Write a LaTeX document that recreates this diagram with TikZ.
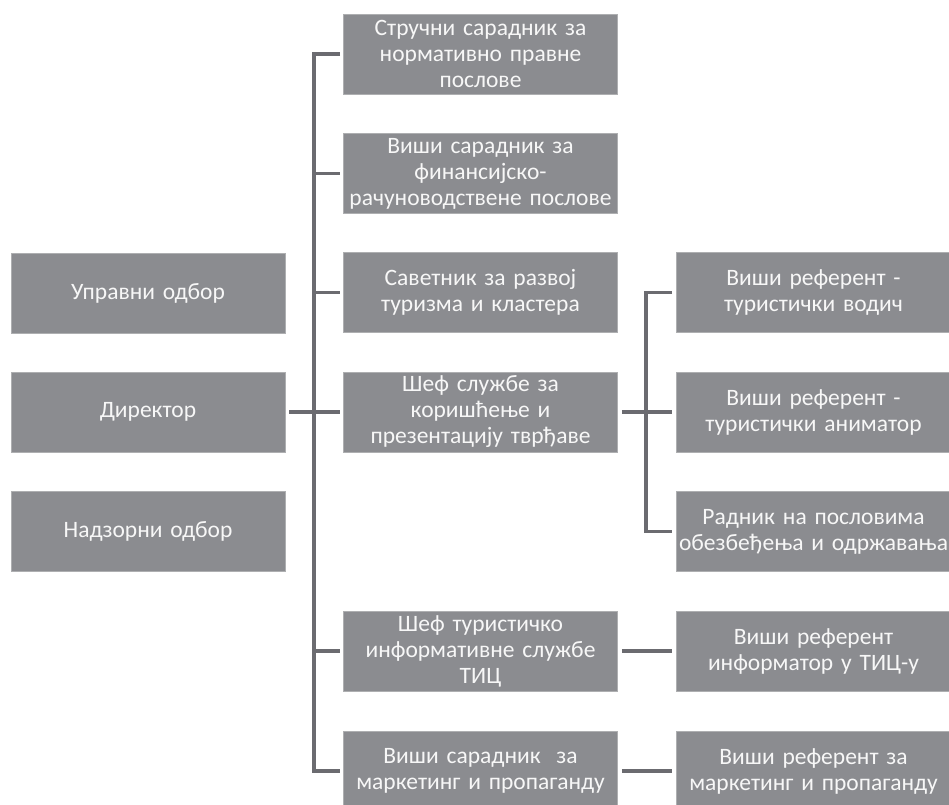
\documentclass[tikz,border=0pt]{standalone}
\usepackage{fontspec}
\setmainfont{Carlito}
\definecolor{boxgray}{HTML}{8B8C90}
\definecolor{linegray}{HTML}{6B6B70}
\definecolor{txt}{HTML}{F7F7F7}
\begin{document}
\begin{tikzpicture}[x=1bp,y=-1bp,
  box/.style={fill=boxgray, draw=boxgray!70!white, line width=0.6bp, text=txt, minimum width=274bp, minimum height=80bp,
    inner sep=0pt, align=center, text width=272bp, font=\fontsize{23.5bp}{26bp}\selectfont},
  conn/.style={draw=linegray, line width=3.6bp, line join=miter}]
\useasboundingbox (0,0) rectangle (949,805);
% left column
\node[box] (upr) at (148,293) {Управни одбор};
\node[box] (dir) at (148,412) {Директор};
\node[box] (nad) at (148,531.5) {Надзорни одбор};
% middle column
\node[box] (s1) at (480.5,54) {Стручни сарадник за\\нормативно правне\\послове};
\node[box] (s2) at (480.5,173.5) {Виши сарадник за\\финансијско-\\рачуноводствене послове};
\node[box] (s3) at (480.5,292.5) {Саветник за развој\\туризма и кластера};
\node[box] (s4) at (480.5,412) {Шеф службе за\\коришћење и\\презентацију тврђаве};
\node[box] (s5) at (480.5,651) {Шеф туристичко\\информативне службе\\ТИЦ};
\node[box] (s6) at (480.5,771) {Виши сарадник~ за\\маркетинг и пропаганду};
% right column
\node[box] (r1) at (813.5,292.5) {Виши референт -\\туристички водич};
\node[box] (r2) at (813.5,412) {Виши референт -\\туристички аниматор};
\node[box] (r3) at (813.5,531.5) {Радник на пословима\\обезбеђења и одржавања};
\node[box] (r4) at (813.5,651) {Виши референт\\информатор у ТИЦ-у};
\node[box] (r5) at (813.5,771) {Виши референт за\\маркетинг и пропаганду};
% connectors
\coordinate (trunk) at ([xshift=-29bp]s1.west);
\draw[conn] ([xshift=-3bp]s1.west) -- (trunk) |- ([xshift=-3bp]s6.west);
\foreach \n in {s2,s3,s4,s5}{
  \draw[conn] (\n.west -| trunk) -- ([xshift=-3bp]\n.west);
}
\draw[conn] ([xshift=4bp]dir.east) -- ([xshift=-3bp]s4.west);
\coordinate (branch) at ([xshift=-30bp]r1.west);
\draw[conn] ([xshift=-4bp]r1.west) -- (branch) |- ([xshift=-4bp]r3.west);
\draw[conn] ([xshift=4bp]s4.east) -- ([xshift=-4bp]r2.west);
\draw[conn] ([xshift=4bp]s5.east) -- ([xshift=-4bp]r4.west);
\draw[conn] ([xshift=4bp]s6.east) -- ([xshift=-4bp]r5.west);
\end{tikzpicture}
\end{document}
